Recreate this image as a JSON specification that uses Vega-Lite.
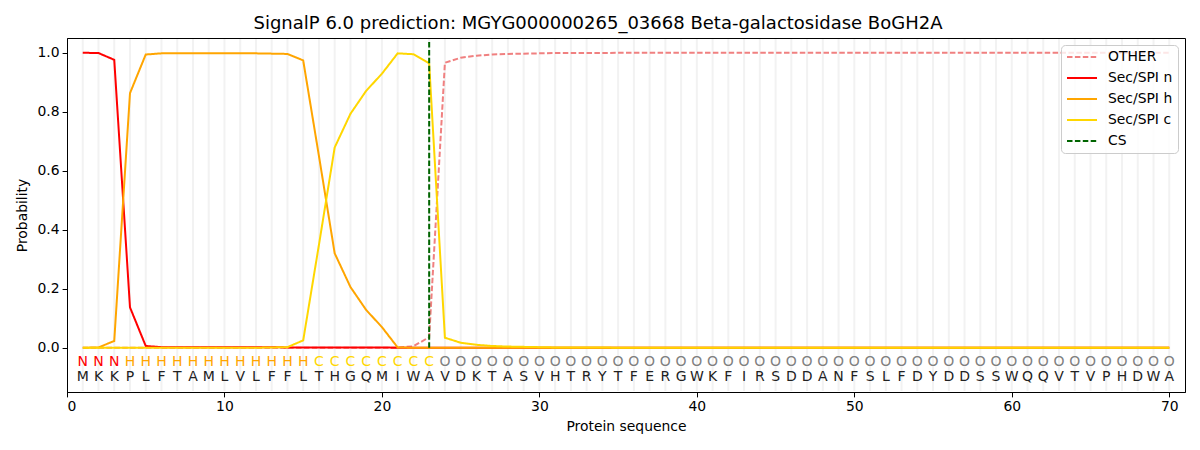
{
  "$schema": "https://vega.github.io/schema/vega-lite/v6.json",
  "autosize": {"type": "none"},
  "width": 1118,
  "height": 354,
  "padding": {"left": 67, "top": 38, "right": 15, "bottom": 58},
  "background": "white",
  "config": {
    "font": "DejaVu Sans",
    "view": {"stroke": "black", "strokeWidth": 1},
    "axis": {
      "domainColor": "black",
      "tickColor": "black",
      "labelColor": "black",
      "titleColor": "black",
      "labelFontSize": 13.9,
      "titleFontSize": 13.9,
      "titleFontWeight": "normal",
      "tickSize": 4.9,
      "grid": false,
      "labelFont": "DejaVu Sans",
      "titleFont": "DejaVu Sans"
    },
    "legend": {
      "orient": "top-right",
      "offset": 7,
      "symbolType": "stroke",
      "symbolSize": 900,
      "symbolStrokeWidth": 2,
      "clipHeight": 14,
      "rowPadding": 7,
      "labelFontSize": 13.9,
      "labelFont": "DejaVu Sans",
      "labelColor": "black",
      "labelOffset": 10,
      "padding": 5,
      "strokeColor": "#cccccc",
      "cornerRadius": 4,
      "fillColor": "rgba(255,255,255,0.8)"
    }
  },
  "title": {
    "text": "SignalP 6.0 prediction: MGYG000000265_03668 Beta-galactosidase BoGH2A",
    "fontSize": 18,
    "fontWeight": "normal",
    "font": "DejaVu Sans",
    "color": "black",
    "offset": 5,
    "dx": -28
  },
  "datasets": {
    "seq": [
      {"pos": 1, "aa": "M", "lab": "N", "OTHER": 0.0, "Sec/SPI n": 1.0, "Sec/SPI h": 0.0, "Sec/SPI c": 0.0},
      {"pos": 2, "aa": "K", "lab": "N", "OTHER": 0.0, "Sec/SPI n": 0.999, "Sec/SPI h": 0.001, "Sec/SPI c": 0.0},
      {"pos": 3, "aa": "K", "lab": "N", "OTHER": 0.0, "Sec/SPI n": 0.976, "Sec/SPI h": 0.023, "Sec/SPI c": 0.0},
      {"pos": 4, "aa": "P", "lab": "H", "OTHER": 0.0, "Sec/SPI n": 0.137, "Sec/SPI h": 0.863, "Sec/SPI c": 0.0},
      {"pos": 5, "aa": "L", "lab": "H", "OTHER": 0.0, "Sec/SPI n": 0.006, "Sec/SPI h": 0.994, "Sec/SPI c": 0.0},
      {"pos": 6, "aa": "F", "lab": "H", "OTHER": 0.0, "Sec/SPI n": 0.002, "Sec/SPI h": 0.998, "Sec/SPI c": 0.0},
      {"pos": 7, "aa": "T", "lab": "H", "OTHER": 0.0, "Sec/SPI n": 0.002, "Sec/SPI h": 0.998, "Sec/SPI c": 0.0},
      {"pos": 8, "aa": "A", "lab": "H", "OTHER": 0.0, "Sec/SPI n": 0.002, "Sec/SPI h": 0.998, "Sec/SPI c": 0.0},
      {"pos": 9, "aa": "M", "lab": "H", "OTHER": 0.0, "Sec/SPI n": 0.002, "Sec/SPI h": 0.998, "Sec/SPI c": 0.0},
      {"pos": 10, "aa": "L", "lab": "H", "OTHER": 0.0, "Sec/SPI n": 0.002, "Sec/SPI h": 0.998, "Sec/SPI c": 0.0},
      {"pos": 11, "aa": "V", "lab": "H", "OTHER": 0.0, "Sec/SPI n": 0.002, "Sec/SPI h": 0.998, "Sec/SPI c": 0.0},
      {"pos": 12, "aa": "L", "lab": "H", "OTHER": 0.0, "Sec/SPI n": 0.002, "Sec/SPI h": 0.998, "Sec/SPI c": 0.0},
      {"pos": 13, "aa": "F", "lab": "H", "OTHER": 0.0, "Sec/SPI n": 0.002, "Sec/SPI h": 0.997, "Sec/SPI c": 0.001},
      {"pos": 14, "aa": "F", "lab": "H", "OTHER": 0.0, "Sec/SPI n": 0.001, "Sec/SPI h": 0.996, "Sec/SPI c": 0.002},
      {"pos": 15, "aa": "L", "lab": "H", "OTHER": 0.0, "Sec/SPI n": 0.001, "Sec/SPI h": 0.974, "Sec/SPI c": 0.025},
      {"pos": 16, "aa": "T", "lab": "C", "OTHER": 0.0, "Sec/SPI n": 0.001, "Sec/SPI h": 0.65, "Sec/SPI c": 0.349},
      {"pos": 17, "aa": "H", "lab": "C", "OTHER": 0.0, "Sec/SPI n": 0.001, "Sec/SPI h": 0.32, "Sec/SPI c": 0.679},
      {"pos": 18, "aa": "G", "lab": "C", "OTHER": 0.0, "Sec/SPI n": 0.001, "Sec/SPI h": 0.206, "Sec/SPI c": 0.793},
      {"pos": 19, "aa": "Q", "lab": "C", "OTHER": 0.0, "Sec/SPI n": 0.001, "Sec/SPI h": 0.128, "Sec/SPI c": 0.871},
      {"pos": 20, "aa": "M", "lab": "C", "OTHER": 0.0, "Sec/SPI n": 0.001, "Sec/SPI h": 0.07, "Sec/SPI c": 0.929},
      {"pos": 21, "aa": "I", "lab": "C", "OTHER": 0.001, "Sec/SPI n": 0.0, "Sec/SPI h": 0.001, "Sec/SPI c": 0.998},
      {"pos": 22, "aa": "W", "lab": "C", "OTHER": 0.005, "Sec/SPI n": 0.0, "Sec/SPI h": 0.0, "Sec/SPI c": 0.995},
      {"pos": 23, "aa": "A", "lab": "C", "OTHER": 0.036, "Sec/SPI n": 0.0, "Sec/SPI h": 0.0, "Sec/SPI c": 0.964},
      {"pos": 24, "aa": "V", "lab": "O", "OTHER": 0.966, "Sec/SPI n": 0.0, "Sec/SPI h": 0.0, "Sec/SPI c": 0.034},
      {"pos": 25, "aa": "D", "lab": "O", "OTHER": 0.983, "Sec/SPI n": 0.0, "Sec/SPI h": 0.0, "Sec/SPI c": 0.017},
      {"pos": 26, "aa": "K", "lab": "O", "OTHER": 0.99, "Sec/SPI n": 0.0, "Sec/SPI h": 0.0, "Sec/SPI c": 0.01},
      {"pos": 27, "aa": "T", "lab": "O", "OTHER": 0.994, "Sec/SPI n": 0.0, "Sec/SPI h": 0.0, "Sec/SPI c": 0.006},
      {"pos": 28, "aa": "A", "lab": "O", "OTHER": 0.996, "Sec/SPI n": 0.0, "Sec/SPI h": 0.0, "Sec/SPI c": 0.004},
      {"pos": 29, "aa": "S", "lab": "O", "OTHER": 0.997, "Sec/SPI n": 0.0, "Sec/SPI h": 0.0, "Sec/SPI c": 0.003},
      {"pos": 30, "aa": "V", "lab": "O", "OTHER": 0.998, "Sec/SPI n": 0.0, "Sec/SPI h": 0.0, "Sec/SPI c": 0.002},
      {"pos": 31, "aa": "H", "lab": "O", "OTHER": 0.999, "Sec/SPI n": 0.0, "Sec/SPI h": 0.0, "Sec/SPI c": 0.001},
      {"pos": 32, "aa": "T", "lab": "O", "OTHER": 0.999, "Sec/SPI n": 0.0, "Sec/SPI h": 0.0, "Sec/SPI c": 0.001},
      {"pos": 33, "aa": "R", "lab": "O", "OTHER": 0.999, "Sec/SPI n": 0.0, "Sec/SPI h": 0.0, "Sec/SPI c": 0.001},
      {"pos": 34, "aa": "Y", "lab": "O", "OTHER": 0.999, "Sec/SPI n": 0.0, "Sec/SPI h": 0.0, "Sec/SPI c": 0.001},
      {"pos": 35, "aa": "T", "lab": "O", "OTHER": 1.0, "Sec/SPI n": 0.0, "Sec/SPI h": 0.0, "Sec/SPI c": 0.0},
      {"pos": 36, "aa": "F", "lab": "O", "OTHER": 1.0, "Sec/SPI n": 0.0, "Sec/SPI h": 0.0, "Sec/SPI c": 0.0},
      {"pos": 37, "aa": "E", "lab": "O", "OTHER": 1.0, "Sec/SPI n": 0.0, "Sec/SPI h": 0.0, "Sec/SPI c": 0.0},
      {"pos": 38, "aa": "R", "lab": "O", "OTHER": 1.0, "Sec/SPI n": 0.0, "Sec/SPI h": 0.0, "Sec/SPI c": 0.0},
      {"pos": 39, "aa": "G", "lab": "O", "OTHER": 1.0, "Sec/SPI n": 0.0, "Sec/SPI h": 0.0, "Sec/SPI c": 0.0},
      {"pos": 40, "aa": "W", "lab": "O", "OTHER": 1.0, "Sec/SPI n": 0.0, "Sec/SPI h": 0.0, "Sec/SPI c": 0.0},
      {"pos": 41, "aa": "K", "lab": "O", "OTHER": 1.0, "Sec/SPI n": 0.0, "Sec/SPI h": 0.0, "Sec/SPI c": 0.0},
      {"pos": 42, "aa": "F", "lab": "O", "OTHER": 1.0, "Sec/SPI n": 0.0, "Sec/SPI h": 0.0, "Sec/SPI c": 0.0},
      {"pos": 43, "aa": "I", "lab": "O", "OTHER": 1.0, "Sec/SPI n": 0.0, "Sec/SPI h": 0.0, "Sec/SPI c": 0.0},
      {"pos": 44, "aa": "R", "lab": "O", "OTHER": 1.0, "Sec/SPI n": 0.0, "Sec/SPI h": 0.0, "Sec/SPI c": 0.0},
      {"pos": 45, "aa": "S", "lab": "O", "OTHER": 1.0, "Sec/SPI n": 0.0, "Sec/SPI h": 0.0, "Sec/SPI c": 0.0},
      {"pos": 46, "aa": "D", "lab": "O", "OTHER": 1.0, "Sec/SPI n": 0.0, "Sec/SPI h": 0.0, "Sec/SPI c": 0.0},
      {"pos": 47, "aa": "D", "lab": "O", "OTHER": 1.0, "Sec/SPI n": 0.0, "Sec/SPI h": 0.0, "Sec/SPI c": 0.0},
      {"pos": 48, "aa": "A", "lab": "O", "OTHER": 1.0, "Sec/SPI n": 0.0, "Sec/SPI h": 0.0, "Sec/SPI c": 0.0},
      {"pos": 49, "aa": "N", "lab": "O", "OTHER": 1.0, "Sec/SPI n": 0.0, "Sec/SPI h": 0.0, "Sec/SPI c": 0.0},
      {"pos": 50, "aa": "F", "lab": "O", "OTHER": 1.0, "Sec/SPI n": 0.0, "Sec/SPI h": 0.0, "Sec/SPI c": 0.0},
      {"pos": 51, "aa": "S", "lab": "O", "OTHER": 1.0, "Sec/SPI n": 0.0, "Sec/SPI h": 0.0, "Sec/SPI c": 0.0},
      {"pos": 52, "aa": "L", "lab": "O", "OTHER": 1.0, "Sec/SPI n": 0.0, "Sec/SPI h": 0.0, "Sec/SPI c": 0.0},
      {"pos": 53, "aa": "F", "lab": "O", "OTHER": 1.0, "Sec/SPI n": 0.0, "Sec/SPI h": 0.0, "Sec/SPI c": 0.0},
      {"pos": 54, "aa": "D", "lab": "O", "OTHER": 1.0, "Sec/SPI n": 0.0, "Sec/SPI h": 0.0, "Sec/SPI c": 0.0},
      {"pos": 55, "aa": "Y", "lab": "O", "OTHER": 1.0, "Sec/SPI n": 0.0, "Sec/SPI h": 0.0, "Sec/SPI c": 0.0},
      {"pos": 56, "aa": "D", "lab": "O", "OTHER": 1.0, "Sec/SPI n": 0.0, "Sec/SPI h": 0.0, "Sec/SPI c": 0.0},
      {"pos": 57, "aa": "D", "lab": "O", "OTHER": 1.0, "Sec/SPI n": 0.0, "Sec/SPI h": 0.0, "Sec/SPI c": 0.0},
      {"pos": 58, "aa": "S", "lab": "O", "OTHER": 1.0, "Sec/SPI n": 0.0, "Sec/SPI h": 0.0, "Sec/SPI c": 0.0},
      {"pos": 59, "aa": "S", "lab": "O", "OTHER": 1.0, "Sec/SPI n": 0.0, "Sec/SPI h": 0.0, "Sec/SPI c": 0.0},
      {"pos": 60, "aa": "W", "lab": "O", "OTHER": 1.0, "Sec/SPI n": 0.0, "Sec/SPI h": 0.0, "Sec/SPI c": 0.0},
      {"pos": 61, "aa": "Q", "lab": "O", "OTHER": 1.0, "Sec/SPI n": 0.0, "Sec/SPI h": 0.0, "Sec/SPI c": 0.0},
      {"pos": 62, "aa": "Q", "lab": "O", "OTHER": 1.0, "Sec/SPI n": 0.0, "Sec/SPI h": 0.0, "Sec/SPI c": 0.0},
      {"pos": 63, "aa": "V", "lab": "O", "OTHER": 1.0, "Sec/SPI n": 0.0, "Sec/SPI h": 0.0, "Sec/SPI c": 0.0},
      {"pos": 64, "aa": "T", "lab": "O", "OTHER": 1.0, "Sec/SPI n": 0.0, "Sec/SPI h": 0.0, "Sec/SPI c": 0.0},
      {"pos": 65, "aa": "V", "lab": "O", "OTHER": 1.0, "Sec/SPI n": 0.0, "Sec/SPI h": 0.0, "Sec/SPI c": 0.0},
      {"pos": 66, "aa": "P", "lab": "O", "OTHER": 1.0, "Sec/SPI n": 0.0, "Sec/SPI h": 0.0, "Sec/SPI c": 0.0},
      {"pos": 67, "aa": "H", "lab": "O", "OTHER": 1.0, "Sec/SPI n": 0.0, "Sec/SPI h": 0.0, "Sec/SPI c": 0.0},
      {"pos": 68, "aa": "D", "lab": "O", "OTHER": 1.0, "Sec/SPI n": 0.0, "Sec/SPI h": 0.0, "Sec/SPI c": 0.0},
      {"pos": 69, "aa": "W", "lab": "O", "OTHER": 1.0, "Sec/SPI n": 0.0, "Sec/SPI h": 0.0, "Sec/SPI c": 0.0},
      {"pos": 70, "aa": "A", "lab": "O", "OTHER": 1.0, "Sec/SPI n": 0.0, "Sec/SPI h": 0.0, "Sec/SPI c": 0.0}
    ],
    "cs": [{"pos": 23, "series": "CS", "y0": 0, "y1": 1.04}]
  },
  "data": {"name": "seq"},
  "layer": [
    {
      "mark": {"type": "rule", "color": "#f2f2f2", "strokeWidth": 2},
      "encoding": {
        "x": {"field": "pos", "type": "quantitative"},
        "y": {"datum": -0.147},
        "y2": {"datum": 1.047}
      }
    },
    {
      "transform": [{"fold": ["OTHER", "Sec/SPI n", "Sec/SPI h", "Sec/SPI c"], "as": ["series", "prob"]}],
      "mark": {"type": "line", "strokeWidth": 2, "clip": true},
      "encoding": {
        "x": {
          "field": "pos", "type": "quantitative",
          "scale": {"domain": [0, 71], "nice": false, "zero": false},
          "axis": {"values": [0, 10, 20, 30, 40, 50, 60, 70], "title": "Protein sequence", "titlePadding": 6, "labelPadding": 3}
        },
        "y": {
          "field": "prob", "type": "quantitative",
          "scale": {"domain": [-0.15, 1.05], "nice": false, "zero": false},
          "axis": {"values": [0, 0.2, 0.4, 0.6, 0.8, 1.0], "format": ".1f", "title": "Probability", "titlePadding": 8, "labelPadding": 3}
        },
        "color": {
          "field": "series", "type": "nominal",
          "scale": {
            "domain": ["OTHER", "Sec/SPI n", "Sec/SPI h", "Sec/SPI c", "CS"],
            "range": ["#f08080", "#ff0000", "#ffa500", "#ffd700", "#006400"]
          },
          "legend": {"title": null}
        },
        "strokeDash": {
          "field": "series", "type": "nominal",
          "scale": {
            "domain": ["OTHER", "Sec/SPI n", "Sec/SPI h", "Sec/SPI c", "CS"],
            "range": [[5.5, 2.4], [1, 0], [1, 0], [1, 0], [5.5, 2.4]]
          },
          "legend": {"title": null}
        }
      }
    },
    {
      "data": {"name": "cs"},
      "mark": {"type": "rule", "strokeWidth": 2},
      "encoding": {
        "x": {"field": "pos", "type": "quantitative"},
        "y": {"field": "y0", "type": "quantitative"},
        "y2": {"field": "y1"},
        "color": {"field": "series", "type": "nominal", "legend": {"title": null}},
        "strokeDash": {"field": "series", "type": "nominal", "legend": {"title": null}}
      }
    },
    {
      "mark": {"type": "text", "fontSize": 14, "baseline": "middle", "align": "center", "font": "DejaVu Sans"},
      "encoding": {
        "x": {"field": "pos", "type": "quantitative"},
        "y": {"datum": -0.047},
        "text": {"field": "lab"},
        "color": {
          "condition": [
            {"test": "datum.lab === 'N'", "value": "#ff0000"},
            {"test": "datum.lab === 'H'", "value": "#ffa500"},
            {"test": "datum.lab === 'C'", "value": "#ffd700"}
          ],
          "value": "#808080"
        }
      }
    },
    {
      "mark": {"type": "text", "fontSize": 14, "baseline": "middle", "align": "center", "font": "DejaVu Sans", "color": "#222222"},
      "encoding": {
        "x": {"field": "pos", "type": "quantitative"},
        "y": {"datum": -0.1},
        "text": {"field": "aa"}
      }
    }
  ]
}
